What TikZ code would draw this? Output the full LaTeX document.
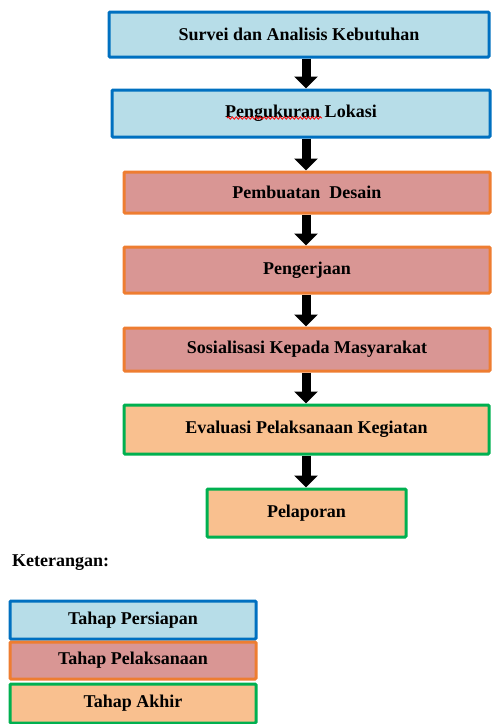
\documentclass[tikz,border=0pt]{standalone}
\usepackage{fontspec}
\setmainfont{Liberation Serif}
\usetikzlibrary{arrows.meta,decorations.pathmorphing}
\definecolor{bluefill}{HTML}{B7DDE8}
\definecolor{blueline}{HTML}{0070C0}
\definecolor{redfill}{HTML}{D99694}
\definecolor{orangeline}{HTML}{EE7D31}
\definecolor{orangefill}{HTML}{F9C08F}
\definecolor{greenline}{HTML}{00B050}
\begin{document}
\begin{tikzpicture}[x=1pt,y=-1pt,
  box/.style={draw,line width=3pt,rounded corners=1pt,inner sep=0pt,
    font=\fontsize{18}{20}\selectfont\bfseries},
  prep/.style={box,fill=bluefill,draw=blueline},
  exec/.style={box,fill=redfill,draw=orangeline},
  final/.style={box,fill=orangefill,draw=greenline},
  flow/.style={line width=9pt,-{Triangle[width=23pt,length=12pt]}}]
\useasboundingbox (0,0) rectangle (492,724);
\node[prep,minimum width=380pt,minimum height=45pt] (b1) at (299,34.5) {Survei dan Analisis Kebutuhan};
\node[prep,minimum width=378pt,minimum height=47pt] (b2) at (301,113.5) {Pengukuran Lokasi};
\node[exec,minimum width=366pt,minimum height=41pt] (b3) at (307,192.5) {Pembuatan\ \ Desain};
\node[exec,minimum width=366pt,minimum height=46pt] (b4) at (307,270) {Pengerjaan};
\node[exec,minimum width=366pt,minimum height=43pt] (b5) at (307,349.5) {Sosialisasi Kepada Masyarakat};
\node[final,minimum width=365pt,minimum height=49pt] (b6) at (306.5,429.5) {Evaluasi Pelaksanaan Kegiatan};
\node[final,minimum width=199pt,minimum height=48pt] (b7) at (306.5,513) {Pelaporan};
\coordinate (ax) at (306,0);
\draw[flow] (b1.south -| ax) -- (b2.north -| ax);
\draw[flow] (b2.south -| ax) -- (b3.north -| ax);
\draw[flow] (b3.south -| ax) -- (b4.north -| ax);
\draw[flow] (b4.south -| ax) -- (b5.north -| ax);
\draw[flow] (b5.south -| ax) -- (b6.north -| ax);
\draw[flow] (b6.south -| ax) -- (b7.north -| ax);
\draw[red,line width=0.8pt,decorate,decoration={snake,amplitude=1.2pt,segment length=4pt}] (227,118) -- (322,118);
\node[font=\fontsize{18}{20}\selectfont\bfseries,anchor=west,inner sep=0pt] (ket) at (12,563) {Keterangan:};
\node[prep,minimum width=246pt,minimum height=38pt] (l1) at (133,620) {Tahap Persiapan};
\node[exec,minimum width=246pt,minimum height=37pt] (l2) at (133,660.5) {Tahap Pelaksanaan};
\node[final,minimum width=246pt,minimum height=39pt] (l3) at (133,703.5) {Tahap Akhir};
\end{tikzpicture}
\end{document}
